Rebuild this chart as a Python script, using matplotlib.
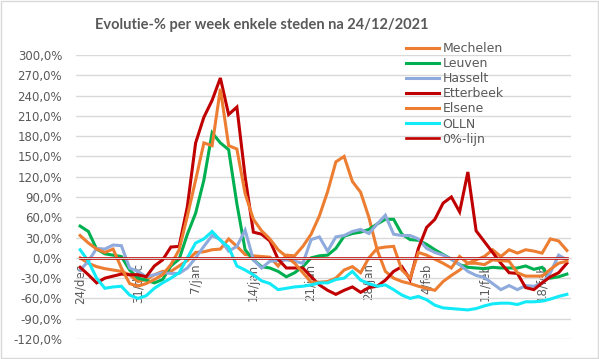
import numpy as np
import matplotlib.pyplot as plt
from matplotlib.ticker import FuncFormatter
from matplotlib.patches import Rectangle


# ---------------- data: evolutie-% per week, dagelijks van 24/12/2021 tot 21/02/2022 ---------------- #

tick_labels = ['24/dec', '31/dec', '7/jan', '14/jan', '21/jan', '28/jan', '4/feb', '11/feb', '18/feb']

mechelen = [0, -8, -13, -16, -18, -20, -25, -35, -32, -25,
            -20, -20, -12, -4, 8, 9, 12, 13, 28, 17,
            5, 3, 2, 1, -12, 4, 3, 17, 35, 62,
            98, 142, 150, 113, 97, 60, 12, -20, -30, -35,
            -38, -42, -45, -48, -35, -26, -18, -8, -3, 2,
            12, 2, 12, 7, 12, 10, 7, 28, 25, 11]

leuven = [47, 39, 13, 6, 4, 2, -18, -30, -33, -37,
          -32, -12, -2, 35, 66, 115, 185, 170, 160, 80,
          12, -3, -13, -15, -20, -28, -22, -13, 0, 3,
          4, 14, 32, 36, 38, 42, 50, 57, 57, 35,
          27, 26, 20, 12, 5, -2, -10, -14, -15, -16,
          -14, -15, -15, -15, -12, -17, -14, -30, -28, -24]

hasselt = [-18, -5, 14, 13, 19, 18, -15, -20, -28, -25,
           -22, -23, -23, -15, 0, 17, 33, 27, 10, 17,
           41, -3, -15, -5, -4, -3, -5, -8, 27, 31,
           10, 31, 33, 39, 42, 36, 50, 63, 35, 33,
           33, 28, 14, 8, 4, -2, -10, -20, -26, -29,
           -38, -47, -41, -47, -41, -42, -38, -22, 4, -3]

etterbeek = [-14, -25, -37, -30, -27, -24, -25, -25, -28, -12,
             -3, 16, 17, 76, 170, 208, 233, 266, 212, 223,
             120, 38, 35, 25, -2, -15, -15, -15, -28, -40,
             -48, -54, -48, -43, -51, -44, -42, -33, -20, -13,
             -32, 14, 45, 57, 81, 90, 68, 127, 40, 24,
             8, -8, -22, -23, -44, -47, -37, -28, -22, -8]

elsene = [33, 22, 13, 8, 13, -15, -38, -42, -38, -32,
          -25, -10, 12, 62, 115, 170, 166, 250, 166, 161,
          95, 57, 40, 28, 12, 2, -8, -22, -36, -36,
          -35, -30, -18, -13, -22, 0, 14, 16, 17, -18,
          -30, 8, 4, -2, -8, -15, 2, -8, -8, -10,
          -3, -4, -5, -22, -27, -27, -27, -17, -8, -5]

olln = [12, -5, -30, -45, -43, -42, -55, -60, -56, -45,
        -37, -30, -22, 0, 22, 28, 39, 26, 16, -12,
        -18, -25, -34, -38, -47, -45, -43, -42, -40, -37,
        -37, -32, -30, -20, -33, -38, -42, -40, -47, -55,
        -60, -57, -62, -70, -74, -75, -76, -77, -75, -71,
        -68, -67, -67, -69, -65, -65, -64, -61, -57, -54]

nul_lijn = [0] * 60

# ---------------- #

series = [
    ('Mechelen', mechelen, '#ED7D31', 2.2),
    ('Leuven', leuven, '#00B050', 2.2),
    ('Hasselt', hasselt, '#8FAADC', 2.2),
    ('Etterbeek', etterbeek, '#C00000', 2.2),
    ('Elsene', elsene, '#ED7D31', 2.2),
    ('OLLN', olln, '#12EAF8', 2.2),
    ('0%-lijn', nul_lijn, '#C00000', 1.9),
]

grijs = '#595959'

fig = plt.figure(figsize=(5.99, 3.59), dpi=100)
ax = fig.add_axes([76 / 599, 1 - 339 / 359, 495 / 599, 284 / 359])

x = np.arange(len(mechelen))
lines = []
for naam, waarden, kleur, lw in series:
    l, = ax.plot(x, waarden, color=kleur, lw=lw, label=naam, solid_joinstyle='miter')
    lines.append(l)

ax.set_xlim(-0.5, len(x) - 0.5)
ax.set_ylim(-120, 300)
ax.set_yticks(np.arange(-120, 301, 30))
ax.yaxis.set_major_formatter(FuncFormatter(lambda v, p: f'{v:.1f}%'.replace('.', ',')))
ax.set_xticks(np.arange(0, len(x), 7))
ax.set_xticklabels(tick_labels)

ax.yaxis.grid(True, color='#D9D9D9', lw=1)
ax.set_axisbelow(True)
for s in ['top', 'right', 'left']:
    ax.spines[s].set_visible(False)
ax.spines['bottom'].set_position(('data', 0))
ax.spines['bottom'].set_color('#D9D9D9')

ax.tick_params(axis='x', length=0, pad=4, labelrotation=90, labelsize=8.5, colors=grijs)
ax.tick_params(axis='y', length=0, pad=10, labelsize=8.5, colors=grijs)

fig.text(262 / 599, 1 - 29.5 / 359, 'Evolutie-% per week enkele steden na 24/12/2021',
         ha='center', va='baseline', fontsize=10.5, fontweight='bold', color=grijs, family='Lato')

leg = fig.legend(handles=lines, loc='upper left', bbox_to_anchor=(406.5 / 599, 1 - 42 / 359),
                 frameon=False, fontsize=9, handlelength=2.64, handletextpad=0.25,
                 labelspacing=0.17, borderpad=0, borderaxespad=0)
for t in leg.get_texts():
    t.set_color(grijs)

fig.patches.append(Rectangle((0.001, 0.002), 0.997, 0.996, transform=fig.transFigure,
                             fill=False, edgecolor='#D9D9D9', lw=1))

fig.savefig('out.png', dpi=100)
